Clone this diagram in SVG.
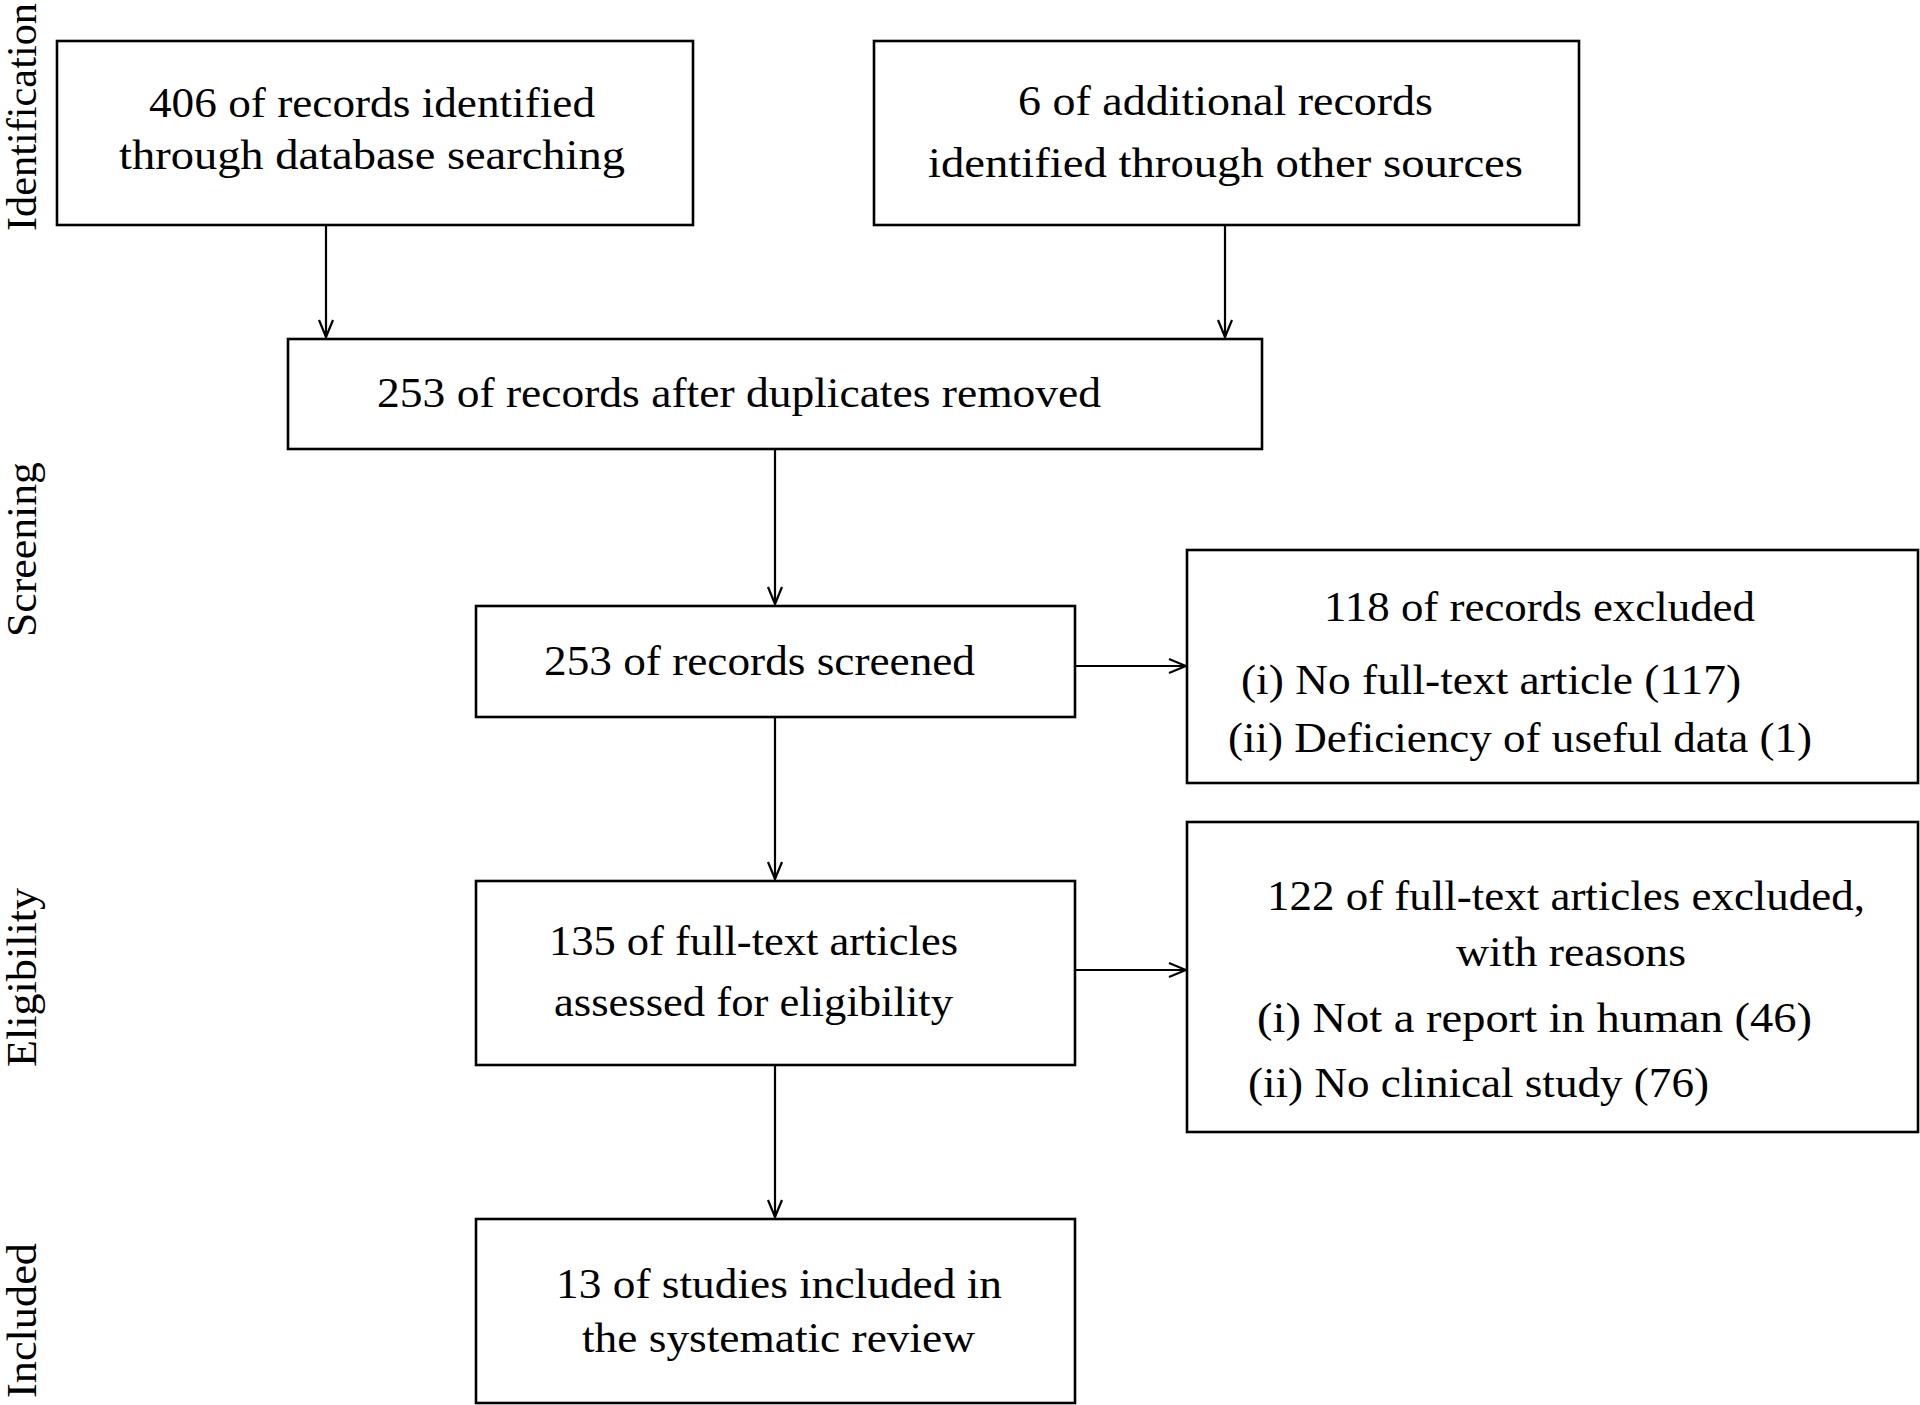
<svg xmlns="http://www.w3.org/2000/svg" width="1920" height="1405" viewBox="0 0 1920 1405">
<style>
.box{fill:#fff;stroke:#000;stroke-width:2.6}
.t{font-family:"Liberation Serif","Times New Roman",serif;font-size:43px;fill:#000}
.side{font-family:"Liberation Serif","Times New Roman",serif;font-size:42px;fill:#000}
.conn{stroke:#000;stroke-width:2.2;fill:none}
</style>
<defs>
<marker id="arr" markerUnits="userSpaceOnUse" viewBox="-20 -10 22 20" refX="0" refY="0" markerWidth="22" markerHeight="20" orient="auto">
<path d="M-17,-7 L0,0 L-17,7" fill="none" stroke="#000" stroke-width="2.2"/>
</marker>
</defs>
<rect width="1920" height="1405" fill="#fff"/>
<g id="labels">
<text class="side" transform="translate(36,231) rotate(-90)" textLength="228" lengthAdjust="spacingAndGlyphs">Identification</text>
<text class="side" transform="translate(36,637) rotate(-90)" textLength="175" lengthAdjust="spacingAndGlyphs">Screening</text>
<text class="side" transform="translate(36,1067) rotate(-90)" textLength="179" lengthAdjust="spacingAndGlyphs">Eligibility</text>
<text class="side" transform="translate(36,1398) rotate(-90)" textLength="155" lengthAdjust="spacingAndGlyphs">Included</text>
</g>
<g id="connectors">
<line class="conn" x1="326" y1="225" x2="326" y2="337" marker-end="url(#arr)"/>
<line class="conn" x1="1225" y1="225" x2="1225" y2="337" marker-end="url(#arr)"/>
<line class="conn" x1="775" y1="449" x2="775" y2="604" marker-end="url(#arr)"/>
<line class="conn" x1="1075" y1="666" x2="1186" y2="666" marker-end="url(#arr)"/>
<line class="conn" x1="775" y1="717" x2="775" y2="879" marker-end="url(#arr)"/>
<line class="conn" x1="1075" y1="970" x2="1186" y2="970" marker-end="url(#arr)"/>
<line class="conn" x1="775" y1="1065" x2="775" y2="1217" marker-end="url(#arr)"/>
</g>
<g id="n1">
<rect class="box" x="57" y="41" width="636" height="184"/>
<text class="t" x="149" y="117" textLength="446" lengthAdjust="spacingAndGlyphs">406 of records identified</text>
<text class="t" x="119" y="169" textLength="506" lengthAdjust="spacingAndGlyphs">through database searching</text>
</g>
<g id="n2">
<rect class="box" x="874" y="41" width="705" height="184"/>
<text class="t" x="1018" y="115" textLength="415" lengthAdjust="spacingAndGlyphs">6 of additional records</text>
<text class="t" x="928" y="177" textLength="595" lengthAdjust="spacingAndGlyphs">identified through other sources</text>
</g>
<g id="n3">
<rect class="box" x="288" y="339" width="974" height="110"/>
<text class="t" x="377" y="407" textLength="724" lengthAdjust="spacingAndGlyphs">253 of records after duplicates removed</text>
</g>
<g id="n4">
<rect class="box" x="476" y="606" width="599" height="111"/>
<text class="t" x="544" y="675" textLength="431" lengthAdjust="spacingAndGlyphs">253 of records screened</text>
</g>
<g id="n5">
<rect class="box" x="1187" y="550" width="731" height="233"/>
<text class="t" x="1324" y="621" textLength="431" lengthAdjust="spacingAndGlyphs">118 of records excluded</text>
<text class="t" x="1241" y="694" textLength="500" lengthAdjust="spacingAndGlyphs">(i) No full-text article (117)</text>
<text class="t" x="1228" y="752" textLength="584" lengthAdjust="spacingAndGlyphs">(ii) Deficiency of useful data (1)</text>
</g>
<g id="n6">
<rect class="box" x="476" y="881" width="599" height="184"/>
<text class="t" x="549" y="955" textLength="409" lengthAdjust="spacingAndGlyphs">135 of full-text articles</text>
<text class="t" x="554" y="1016" textLength="399" lengthAdjust="spacingAndGlyphs">assessed for eligibility</text>
</g>
<g id="n7">
<rect class="box" x="1187" y="822" width="731" height="310"/>
<text class="t" x="1267" y="910" textLength="598" lengthAdjust="spacingAndGlyphs">122 of full-text articles excluded,</text>
<text class="t" x="1456" y="966" textLength="230" lengthAdjust="spacingAndGlyphs">with reasons</text>
<text class="t" x="1257" y="1032" textLength="555" lengthAdjust="spacingAndGlyphs">(i) Not a report in human (46)</text>
<text class="t" x="1248" y="1097" textLength="461" lengthAdjust="spacingAndGlyphs">(ii) No clinical study (76)</text>
</g>
<g id="n8">
<rect class="box" x="476" y="1219" width="599" height="184"/>
<text class="t" x="556" y="1298" textLength="446" lengthAdjust="spacingAndGlyphs">13 of studies included in</text>
<text class="t" x="582" y="1352" textLength="393" lengthAdjust="spacingAndGlyphs">the systematic review</text>
</g>
</svg>
